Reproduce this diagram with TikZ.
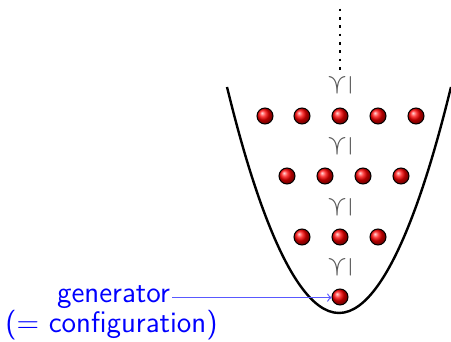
\documentclass[tikz,border=0pt]{standalone}
\usepackage{amssymb}
\usepackage{graphicx}
\usetikzlibrary{shadings}
\tikzset{
  ball/.style={circle, draw=black, line width=0.5pt, shading=ball, ball color=red, minimum size=8pt, inner sep=0pt},
  rel/.style={text=black!65, inner sep=0pt, font=\fontsize{14.4}{17}\selectfont},
  lbl/.style={text=blue, inner sep=1pt, anchor=base, font=\fontsize{14.8}{17}\selectfont\sffamily},
  arr/.style={->, blue!65, line width=0.6pt},
}
\newcommand{\relsym}{\rotatebox[origin=c]{90}{$\preceq$}}
\begin{document}
\begin{tikzpicture}[x=0.5pt,y=-0.5pt]
\useasboundingbox (0,0) rectangle (451,342);
% bowl
\draw[line width=1.2pt] (227,87) parabola bend (339,313) (451,87);
% dotted line
\coordinate (dtop) at (340,8.6);
\coordinate (dbot) at (340,72);
\draw[line width=1.4pt, dash pattern=on 1.4pt off 2.77pt] (dtop) -- (dbot);
% relation symbols
\node[rel] (r4) at (340,85) {\relsym};
\node[rel] (r3) at (340,146) {\relsym};
\node[rel] (r2) at (340,207) {\relsym};
\node[rel] (r1) at (340,267) {\relsym};
% balls
\foreach \x [count=\i] in {265,302,340,378,416} \node[ball] (a\i) at (\x,116) {};
\foreach \x [count=\i] in {287,325,363,401} \node[ball] (c\i) at (\x,176) {};
\foreach \x [count=\i] in {302,340,378} \node[ball] (d\i) at (\x,237) {};
\node[ball] (b0) at (340,297) {};
% labels
\node[lbl] (gen) at (113.5,303) {generator};
\node[lbl] (conf) at (111.5,333) {(= configuration)};
\draw[arr] (gen.east) -- (gen.east -| b0.west);
\end{tikzpicture}
\end{document}
